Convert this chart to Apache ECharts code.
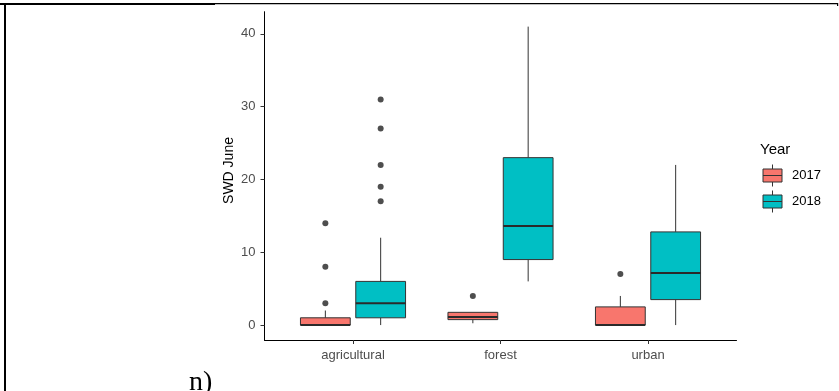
<!DOCTYPE html>
<html>
<head>
<meta charset="utf-8">
<script src="https://cdn.jsdelivr.net/npm/echarts@6/dist/echarts.min.js"></script>
<style>
html,body{margin:0;padding:0;background:#fff;}
#c{width:839px;height:391px;}
</style>
</head>
<body>
<div id="c"></div>
<script>
// ---- data ----
const categories = ['agricultural', 'forest', 'urban'];
const years = ['2017', '2018'];
// each entry: [lower whisker, Q1, median, Q3, upper whisker]
const box2017 = [[0, 0, 0, 1, 2], [0.25, 0.75, 1.1, 1.75, 1.75], [0, 0, 0, 2.5, 4]];
const box2018 = [[0, 1, 3, 6, 12], [6, 9, 13.6, 23, 41], [0, 3.5, 7.15, 12.8, 22]];
const outliers2017 = [[3, 8, 14], [4], [7]];
const outliers2018 = [[17, 19, 22, 27, 31], [], []];
const yTicks = [0, 10, 20, 30, 40];
const yTitle = 'SWD June';
const legendTitle = 'Year';
const panelLabel = 'n)';

// ---- styling / layout ----
const FONT = 'Liberation Sans, Arial, sans-serif';
const colors = ['#F8766D', '#00BFC4'];
const DODGE = 0.1875;       // half of dodge width 0.75
const BOX_W = 0.3375;       // box width in category units
const offsets = [-DODGE, DODGE];
const boxes = [box2017, box2018];
const outs = [outliers2017, outliers2018];

function makeRender(off, fill) {
  return function (params, api) {
    const c = api.value(0) + off;
    const lo = api.coord([c, api.value(1)]);
    const q1 = api.coord([c, api.value(2)]);
    const md = api.coord([c, api.value(3)]);
    const q3 = api.coord([c, api.value(4)]);
    const hi = api.coord([c, api.value(5)]);
    const hw = api.size([BOX_W, 0])[0] / 2;
    const x = lo[0];
    const children = [];
    if (hi[1] < q3[1]) children.push({type: 'line', shape: {x1: x, y1: hi[1], x2: x, y2: q3[1]}, style: {stroke: '#333333', lineWidth: 1}});
    if (lo[1] > q1[1]) children.push({type: 'line', shape: {x1: x, y1: q1[1], x2: x, y2: lo[1]}, style: {stroke: '#333333', lineWidth: 1}});
    children.push({type: 'rect', shape: {x: x - hw, y: q3[1], width: 2 * hw, height: q1[1] - q3[1]}, style: {fill: fill, stroke: '#333333', lineWidth: 1}});
    children.push({type: 'line', shape: {x1: x - hw, y1: md[1], x2: x + hw, y2: md[1]}, style: {stroke: '#2a2a2a', lineWidth: 2}});
    return {type: 'group', children: children};
  };
}

const series = [];
years.forEach(function (yr, s) {
  series.push({
    name: yr,
    type: 'custom',
    renderItem: makeRender(offsets[s], colors[s]),
    encode: {x: 0, y: [1, 2, 3, 4, 5]},
    itemStyle: {color: colors[s]},
    data: boxes[s].map(function (b, i) { return [i].concat(b); }),
    z: 2
  });
});
years.forEach(function (yr, s) {
  const pts = [];
  outs[s].forEach(function (arr, i) {
    arr.forEach(function (v) { pts.push([i + offsets[s], v]); });
  });
  series.push({
    name: yr,
    type: 'scatter',
    data: pts,
    symbol: 'circle',
    symbolSize: 6,
    itemStyle: {color: '#222222'},
    z: 3
  });
});

const legendIcon = 'path://M9.5,0L9.5,4.5M0,4.5L19,4.5L19,17.5L0,17.5ZM0,11L19,11M9.5,17.5L9.5,22';

const chart = echarts.init(document.getElementById('c'), null, {renderer: 'canvas'});
chart.setOption({
  backgroundColor: '#ffffff',
  animation: false,
  textStyle: {fontFamily: FONT},
  grid: {left: 264.5, top: 11.7, width: 472, height: 328.3, containLabel: false},
  xAxis: {
    type: 'value',
    min: -0.6,
    max: 2.6,
    splitLine: {show: false},
    axisLine: {show: true, onZero: false, lineStyle: {color: '#000', width: 1}},
    axisTick: {show: true, length: 4, customValues: [0, 1, 2], lineStyle: {color: '#333', width: 1}},
    axisLabel: {
      customValues: [0, 1, 2],
      formatter: function (v) { return categories[Math.round(v)]; },
      color: '#4D4D4D', fontSize: 13, fontFamily: FONT, margin: 9
    }
  },
  yAxis: {
    type: 'value',
    min: -2.05,
    max: 43.05,
    splitLine: {show: false},
    axisLine: {show: true, onZero: false, lineStyle: {color: '#000', width: 1}},
    axisTick: {show: true, length: 4, customValues: yTicks, lineStyle: {color: '#333', width: 1}},
    axisLabel: {customValues: yTicks, color: '#4D4D4D', fontSize: 13, fontFamily: FONT, margin: 9}
  },
  legend: {
    orient: 'vertical',
    left: 762.5,
    top: 164,
    padding: 0,
    itemWidth: 19,
    itemHeight: 22,
    itemGap: 3,
    selectedMode: false,
    textStyle: {fontSize: 13, color: '#000', fontFamily: FONT, padding: [0, 0, 0, 5]},
    data: years.map(function (yr, s) {
      return {name: yr, icon: legendIcon, itemStyle: {color: colors[s], borderColor: '#333333', borderWidth: 1}};
    })
  },
  graphic: [
    {type: 'rect', shape: {x: 0, y: 3, width: 215, height: 2}, style: {fill: '#000'}, silent: true},
    {type: 'rect', shape: {x: 215, y: 3, width: 623, height: 1.3}, style: {fill: '#000'}, silent: true},
    {type: 'rect', shape: {x: 4, y: 3, width: 2, height: 388}, style: {fill: '#000'}, silent: true},
    {type: 'rect', shape: {x: 837, y: 3, width: 1.2, height: 3}, style: {fill: '#000'}, silent: true},
    {type: 'text', x: 229, y: 170.5, rotation: Math.PI / 2,
      style: {text: yTitle, font: '14px ' + FONT, fill: '#000', align: 'center', verticalAlign: 'middle'}},
    {type: 'text', x: 760, y: 149.5,
      style: {text: legendTitle, font: '15px ' + FONT, fill: '#000', align: 'left', verticalAlign: 'middle'}},
    {type: 'text', x: 189, y: 383,
      style: {text: panelLabel, font: '28px "Liberation Serif", "Times New Roman", serif', fill: '#000', align: 'left', verticalAlign: 'middle'}}
  ],
  series: series
});
</script>
</body>
</html>
